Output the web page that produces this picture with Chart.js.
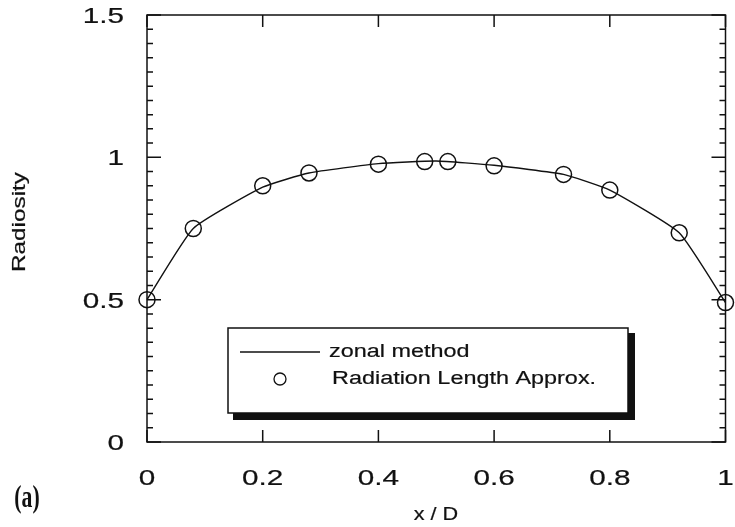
<!DOCTYPE html>
<html>
<head>
<meta charset="UTF-8" />
<title>Radiosity</title>
<script src="https://cdn.jsdelivr.net/npm/chart.js"></script>
<style>
  html, body { margin: 0; padding: 0; background: #fff; }
  #wrap { width: 735px; height: 527px; }
</style>
</head>
<body>
<div id="wrap"><canvas id="chart" width="735" height="527"></canvas></div>
<script>
// values
const xCircle = [0, 0.08, 0.2, 0.28, 0.4, 0.48, 0.52, 0.6, 0.72, 0.8, 0.92, 1.0];
const yCircle = [0.50, 0.75, 0.90, 0.945, 0.976, 0.985, 0.985, 0.97, 0.94, 0.885, 0.735, 0.49];
const xZonal  = [0, 0.08, 0.2, 0.28, 0.4, 0.5, 0.6, 0.72, 0.8, 0.92, 1.0];
const yZonal  = [0.50, 0.75, 0.895, 0.945, 0.978, 0.987, 0.972, 0.94, 0.885, 0.735, 0.49];
const xTicks  = [0, 0.2, 0.4, 0.6, 0.8, 1];
const xTickLabels = ['0', '0.2', '0.4', '0.6', '0.8', '1'];
const yTicks  = [0, 0.5, 1, 1.5];
const yTickLabels = ['0', '0.5', '1', '1.5'];
const legendLabels = ['zonal method', 'Radiation Length Approx.'];

const SANS = '"Liberation Sans", Arial, sans-serif';

// wide helvetica look: stretch text along its own baseline
function txt(ctx, s, x, y, size, align, sx, rot, font) {
  ctx.save();
  ctx.translate(x, y);
  if (rot) ctx.rotate(rot);
  ctx.scale(sx, 1);
  ctx.font = font || (size + 'px ' + SANS);
  ctx.fillStyle = '#111';
  ctx.strokeStyle = '#111';
  ctx.lineWidth = 0.2;
  ctx.textAlign = align;
  ctx.textBaseline = 'middle';
  ctx.fillText(s, 0, 0);
  if (!font) ctx.strokeText(s, 0, 0);
  ctx.restore();
}

const framePlugin = {
  id: 'frame',
  afterDraw(chart) {
    const ctx = chart.ctx, a = chart.chartArea;
    const xs = chart.scales.x, ys = chart.scales.y;
    ctx.save();
    ctx.strokeStyle = '#111';
    ctx.lineWidth = 1.5;
    ctx.strokeRect(a.left, a.top, a.right - a.left, a.bottom - a.top);

    ctx.beginPath();
    // y ticks, inward on both sides
    for (let i = 0; i <= 30; i++) {
      const v = i * 0.05;
      const py = ys.getPixelForValue(v);
      const len = (i % 10 === 0) ? 14 : 6;
      ctx.moveTo(a.left, py); ctx.lineTo(a.left + len, py);
      ctx.moveTo(a.right, py); ctx.lineTo(a.right - len, py);
    }
    // x ticks, inward on both sides
    xTicks.forEach(v => {
      const px = xs.getPixelForValue(v);
      ctx.moveTo(px, a.bottom); ctx.lineTo(px, a.bottom - 12);
      ctx.moveTo(px, a.top); ctx.lineTo(px, a.top + 12);
    });
    ctx.stroke();

    // tick labels
    yTicks.forEach((v, i) => txt(ctx, yTickLabels[i], 124, ys.getPixelForValue(v) + 2, 22, 'right', 1.35));
    xTicks.forEach((v, i) => txt(ctx, xTickLabels[i], xs.getPixelForValue(v), 479, 22, 'center', 1.35));

    // axis titles
    txt(ctx, 'Radiosity', 20, 222, 18, 'center', 1.35, -Math.PI / 2);
    txt(ctx, 'x / D', 436, 515, 18, 'center', 1.2);
    txt(ctx, '(a)', 27, 499, 0, 'center', 0.7, 0, 'bold 31px "Liberation Serif", serif');

    // legend box with drop shadow
    const L = 228, T = 328, R = 628, B = 413;
    ctx.fillStyle = '#111';
    ctx.fillRect(L + 5, T + 5, R - L + 2, B - T + 2);
    ctx.fillStyle = '#fff';
    ctx.fillRect(L, T, R - L, B - T);
    ctx.lineWidth = 1.5;
    ctx.strokeRect(L, T, R - L, B - T);

    ctx.beginPath();
    ctx.lineWidth = 1.3;
    ctx.moveTo(240, 352); ctx.lineTo(320, 352);
    ctx.stroke();
    ctx.beginPath();
    ctx.arc(280, 379, 6, 0, Math.PI * 2);
    ctx.stroke();
    txt(ctx, legendLabels[0], 329, 352, 18, 'left', 1.3);
    txt(ctx, legendLabels[1], 332, 379, 18, 'left', 1.3);
    ctx.restore();
  }
};

new Chart(document.getElementById('chart'), {
  type: 'scatter',
  data: {
    datasets: [
      {
        label: legendLabels[0],
        data: xZonal.map((x, i) => ({ x, y: yZonal[i] })),
        showLine: true,
        borderColor: '#111',
        borderWidth: 1.4,
        pointRadius: 0,
        tension: 0.15,
        clip: false
      },
      {
        label: legendLabels[1],
        data: xCircle.map((x, i) => ({ x, y: yCircle[i] })),
        showLine: false,
        pointStyle: 'circle',
        pointRadius: 8,
        borderColor: '#111',
        borderWidth: 1.5,
        backgroundColor: 'rgba(0,0,0,0)',
        clip: false
      }
    ]
  },
  options: {
    responsive: false,
    animation: false,
    layout: { padding: { left: 147, right: 6, top: 15, bottom: 85 } },
    scales: {
      x: { type: 'linear', min: 0, max: 1, display: false },
      y: { type: 'linear', min: 0, max: 1.5, display: false }
    },
    plugins: { legend: { display: false }, tooltip: { enabled: false } }
  },
  plugins: [framePlugin]
});
</script>
</body>
</html>
